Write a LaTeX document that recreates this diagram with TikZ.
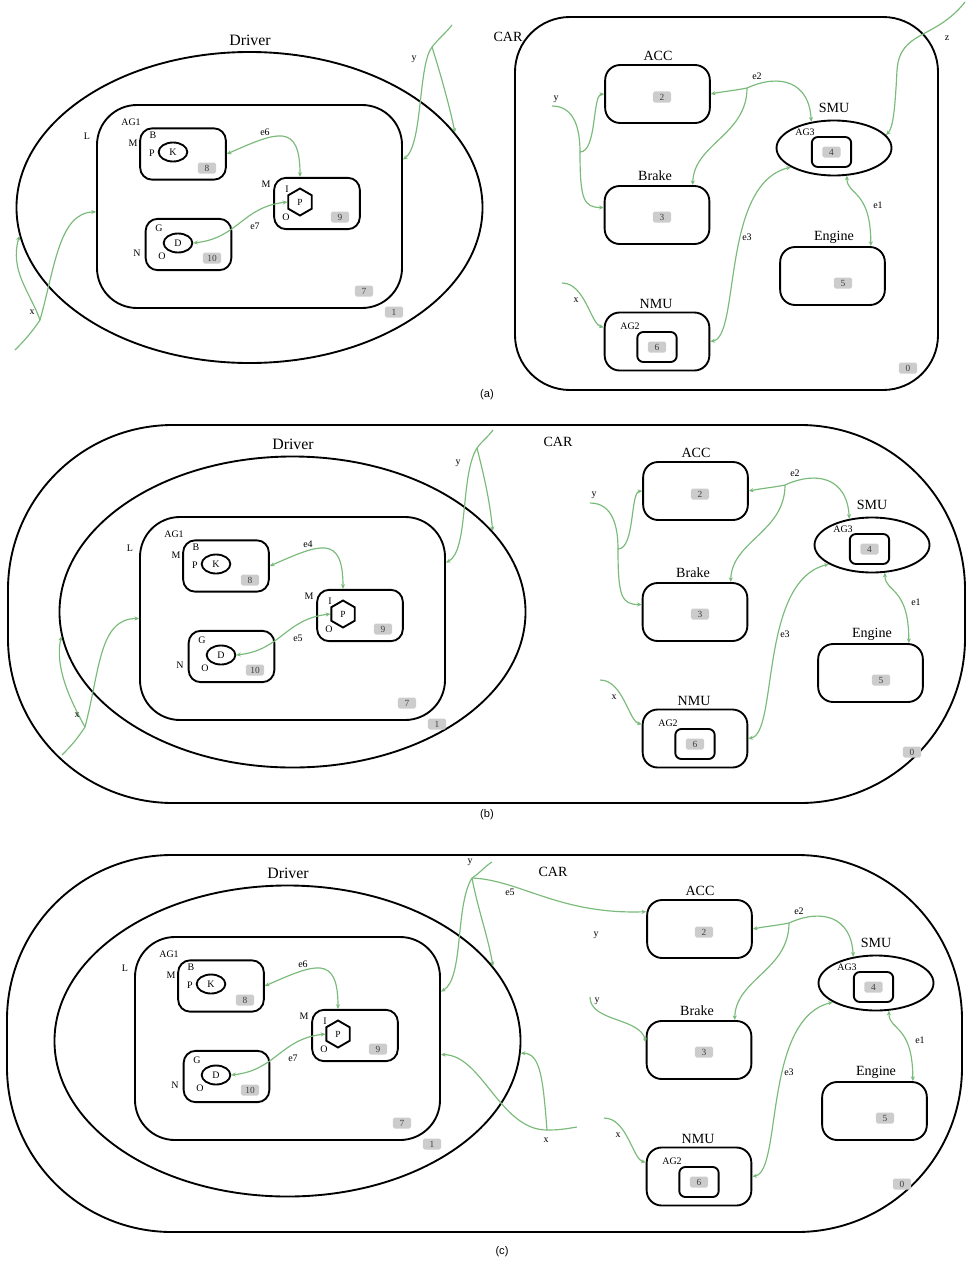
\documentclass[tikz,border=0pt]{standalone}
\usepackage{fontspec}
\setmainfont{Liberation Serif}
\newfontfamily\capfont{Liberation Sans}
\usetikzlibrary{shapes.geometric,arrows.meta}

\definecolor{wiregreen}{RGB}{122,186,122}
\definecolor{tagfill}{RGB}{204,204,204}

\tikzset{
  bound/.style={draw,line width=1.6pt,inner sep=0pt},
  agbox/.style={bound,rounded corners=1.2cm,minimum width=9.15cm,minimum height=6.09cm},
  drv/.style={bound,ellipse,minimum width=13.98cm,minimum height=9.33cm},
  ibox/.style={bound,rounded corners=0.36cm,minimum width=2.57cm,minimum height=1.54cm},
  cbox/.style={bound,rounded corners=0.45cm,minimum width=3.14cm,minimum height=1.74cm},
  gbox/.style={bound,rounded corners=0.18cm,minimum width=1.18cm,minimum height=0.9cm},
  smuoval/.style={bound,ellipse,minimum width=3.45cm,minimum height=1.65cm},
  oval/.style={bound,ellipse,minimum width=0.86cm,minimum height=0.57cm,font=\fontsize{8.5}{9}\selectfont},
  hexa/.style={bound,regular polygon,regular polygon sides=6,shape border rotate=30,minimum size=0.81cm,font=\fontsize{8}{9}\selectfont},
  outer/.style={bound,rounded corners=4.95cm,minimum width=28.71cm,minimum height=11.34cm},
  tag/.style={fill=tagfill,text=black!75,rounded corners=1.5pt,inner sep=1pt,minimum width=0.55cm,minimum height=0.33cm,font=\fontsize{8}{9}\selectfont},
  namelbl/.style={font=\fontsize{12}{14}\selectfont},
  lbl/.style={font=\fontsize{8.5}{10}\selectfont},
  caption/.style={font=\capfont\fontsize{9.5}{11}\selectfont},
  wire/.style={draw=wiregreen,line width=1pt},
  feed/.style={wire,-{Stealth[length=4pt,width=3.5pt]}},
  link/.style={wire,{Stealth[length=4pt,width=3.5pt]}-{Stealth[length=4pt,width=3.5pt]}}
}

% driver with its agent, origin at the top left corner of AG1
% #3 = height of the driver oval's centre
\newcommand{\drivergroup}[3]{%
  \node[drv] (dr) at (152.5,#3) {};
  \node[agbox] (ag1) at (152.5,101.5) {};
  \node[namelbl,font=\fontsize{13.5}{15}\selectfont] (drname) at (153,#3-167.5) {Driver};
  \node[lbl] (agname) at (34,17) {AG1};
  \node[lbl] (lname) at (-10,31) {L};
  \node[ibox] (b8) at (86,49) {};
  \node[lbl] (b8b) at (56,30) {B};
  \node[lbl] (b8m) at (36,38) {M};
  \node[lbl] (b8p) at (55,48) {P};
  \node[oval] (k) at (76,47) {K};
  \node[tag] (t8) at (110,63) {8};
  \node[ibox] (b9) at (220,98.5) {};
  \node[lbl] (b9m) at (169,79) {M};
  \node[lbl] (b9i) at (190,84) {I};
  \node[hexa] (hex) at (203,97) {P};
  \node[lbl] (b9o) at (189,112) {O};
  \node[tag] (t9) at (243,112) {9};
  \node[ibox] (b10) at (91.5,139.5) {};
  \node[lbl] (b10g) at (62,123) {G};
  \node[lbl] (b10n) at (40,148) {N};
  \node[oval] (d) at (81,138) {D};
  \node[lbl] (b10o) at (65,151) {O};
  \node[tag] (t10) at (115,153) {10};
  \node[tag] (t7) at (267,186) {7};
  \node[tag] (t1) at (297,207) {1};
  \draw[link] (b8.east) .. controls +(50,-22) and +(0,-55) .. (hex |- b9.north);
  \node[lbl] (eup) at (168,27) {#1};
  \draw[link] (d.east) .. controls +(45,-5) and +(-45,5) .. (hex.180);
  \node[lbl] (edown) at (158,121) {#2};
}

% car units, origin at the top left corner of ACC
\newcommand{\cargroup}{%
  \node[cbox] (acc) at (52.5,29) {};
  \node[namelbl] (accname) at (53,-9) {ACC};
  \node[tag] (t2) at (57,32) {2};
  \node[cbox] (brake) at (52,150) {};
  \node[namelbl] (brakename) at (50,111) {Brake};
  \node[tag] (t3) at (57,152) {3};
  \node[cbox] (nmu) at (52,276.5) {};
  \node[namelbl] (nmuname) at (51,239) {NMU};
  \node[lbl] (ag2name) at (25,261) {AG2};
  \node[gbox] (g2) at (52,282) {};
  \node[tag] (t6) at (52,282) {6};
  \node[smuoval] (smu) at (229,83) {};
  \node[namelbl] (smuname) at (229,43) {SMU};
  \node[lbl] (ag3name) at (200,67) {AG3};
  \node[gbox] (g3) at (226.5,87) {};
  \node[tag] (t4) at (226.5,87) {4};
  \node[cbox] (engine) at (227.5,211) {};
  \node[namelbl] (enginename) at (229,172) {Engine};
  \node[tag] (t5) at (238,218) {5};
  \coordinate (j2) at (142,23);
  \draw[link] (acc.east) .. controls +(15,-3) and +(-15,3) .. (j2) .. controls +(33,-15) and +(-2,-40) .. (smu.131);
  \draw[feed] (j2) .. controls +(0,47) and +(1,-41) .. (brake.40);
  \node[lbl] (e2name) at (152,11) {e2};
  \draw[link] (nmu.east) .. controls +(30,-5) and +(-70,17) .. (smu.204);
  \node[lbl] (e3name) at (142,172) {e3};
  \draw[link] (smu.295) .. controls +(0,20) and +(0,-57) .. (engine.38);
  \node[lbl] (e1name) at (273,140) {e1};
  \coordinate (x0) at (-43,218);
  \draw[feed] (x0) .. controls +(23,0) and +(-13,-3) .. (nmu.165);
  \node[lbl] (xname) at (-29,235) {x};
}

\begin{document}
\begin{tikzpicture}[x=0.03cm,y=-0.03cm]
  \useasboundingbox (0,0) rectangle (966,1263);

  % (a)
  \begin{scope}[shift={(97,105)},name prefix=a-]
    \drivergroup{e6}{e7}{102.5}
  \end{scope}
  \node[bound,rounded corners=1.65cm,minimum width=12.69cm,minimum height=11.19cm] (a-car) at (726.5,203.5) {};
  \node[namelbl] (a-carname) at (508,37) {CAR};
  \node[tag] (a-t0) at (908,368) {0};
  \begin{scope}[shift={(605,65)},name prefix=a-]
    \cargroup
  \end{scope}
  \coordinate (a-dy0) at (452,25);
  \coordinate (a-dyj) at (432,47);
  \draw[feed] (a-dy0) .. controls +(-8,10) and +(8,-10) .. (a-dyj) .. controls +(-14,18) and +(20,-15) .. (a-ag1.17);
  \draw[feed] (a-dyj) .. controls +(8,25) and +(-5,-25) .. (a-dr.20);
  \node[lbl] (a-dyname) at (414,59) {y};
  \coordinate (a-dx0) at (15,350);
  \coordinate (a-dxj) at (40,320);
  \draw[feed] (a-dx0) .. controls +(10,-10) and +(-8,12) .. (a-dxj) .. controls +(15,-53) and +(-37,1) .. (a-ag1.182);
  \draw[feed] (a-dxj) .. controls +(-10,-28) and +(-10,35) .. (a-dr.187);
  \node[lbl] (a-dxname) at (32,312) {x};
  \coordinate (a-cy0) at (552,106);
  \coordinate (a-cyj) at (580,152);
  \draw[feed] (a-cy0) .. controls +(23,0) and +(0,-22) .. (a-cyj) .. controls +(17,0) and +(-12,1) .. (a-acc.west);
  \draw[feed] (a-cyj) .. controls +(0,48) and +(-20,0) .. (a-brake.172);
  \node[lbl] (a-cyname) at (556,99) {y};
  \coordinate (a-z0) at (965,2);
  \draw[feed] (a-z0) .. controls (935,40) and (900,30) .. (897,70) .. controls (895,110) and (893,128) .. (a-smu.14);
  \node[lbl] (a-zname) at (947,38) {z};
  \node[caption] (capa) at (487,395) {(a)};

  % (b)
  \node[outer] (b-car) at (486.5,614) {};
  \node[namelbl] (b-carname) at (558,442) {CAR};
  \node[tag] (b-t0) at (912,752) {0};
  \begin{scope}[shift={(140,517)},name prefix=b-]
    \drivergroup{e4}{e5}{95}
  \end{scope}
  \begin{scope}[shift={(643,462)},name prefix=b-]
    \cargroup
  \end{scope}
  \coordinate (b-dy0) at (493,430);
  \coordinate (b-dyj) at (477,448);
  \draw[feed] (b-dy0) .. controls +(-6,8) and +(6,-8) .. (b-dyj) .. controls +(-17,27) and +(23,-12) .. (b-ag1.20);
  \draw[feed] (b-dyj) .. controls +(8,32) and +(-3,-30) .. (b-dr.22);
  \node[lbl] (b-dyname) at (458,463) {y};
  \coordinate (b-dx0) at (62,755);
  \coordinate (b-dxj) at (85,727);
  \draw[feed] (b-dx0) .. controls +(10,-10) and +(-8,12) .. (b-dxj) .. controls +(15,-57) and +(-40,0) .. (b-ag1.west);
  \draw[feed] (b-dxj) .. controls +(-15,-27) and +(-7,30) .. (b-dr.186);
  \node[lbl] (b-dxname) at (77,715) {x};
  \coordinate (b-cy0) at (590,503);
  \coordinate (b-cyj) at (618,549);
  \draw[feed] (b-cy0) .. controls +(23,0) and +(0,-22) .. (b-cyj) .. controls +(17,0) and +(-12,1) .. (b-acc.west);
  \draw[feed] (b-cyj) .. controls +(0,48) and +(-20,0) .. (b-brake.172);
  \node[lbl] (b-cyname) at (594,495) {y};
  \node[caption] (capb) at (487,815) {(b)};

  % (c)
  \node[outer,minimum width=28.65cm,minimum height=11.31cm] (c-car) at (484.5,1043.5) {};
  \node[namelbl] (c-carname) at (553,872) {CAR};
  \node[tag] (c-t0) at (902,1184) {0};
  \begin{scope}[shift={(135,937)},name prefix=c-]
    \drivergroup{e6}{e7}{104}
  \end{scope}
  \begin{scope}[shift={(647,900)},name prefix=c-]
    \cargroup
  \end{scope}
  \coordinate (c-dy0) at (492,862);
  \coordinate (c-dyj) at (472,878);
  \draw[feed] (c-dy0) .. controls +(-8,5) and +(8,-5) .. (c-dyj) .. controls +(-17,27) and +(23,-13) .. (c-ag1.17);
  \draw[feed] (c-dyj) .. controls +(6,32) and +(-5,-30) .. (c-dr.20);
  \draw[feed] (c-dyj) .. controls +(48,2) and +(-87,3) .. (c-acc.162);
  \node[lbl] (c-dyname) at (470,862) {y};
  \node[lbl] (c-e5name) at (510,892) {e5};
  \coordinate (c-dx0) at (577,1127);
  \coordinate (c-dxj) at (547,1130);
  \draw[feed] (c-dx0) .. controls +(-12,2) and +(12,0) .. (c-dxj) .. controls +(-47,0) and +(41,0) .. (c-ag1.354);
  \draw[feed] (c-dxj) .. controls +(-4,-50) and +(20,0) .. (c-dr.357);
  \node[lbl] (c-dxname) at (546,1140) {x};
  \node[lbl] (c-cyfree) at (596,935) {y};
  \coordinate (c-cy0) at (590,997);
  \draw[feed] (c-cy0) .. controls +(0,25) and +(-5,-25) .. (c-brake.172);
  \node[lbl] (c-cyname) at (597,1001) {y};
  \node[caption] (capc) at (502,1252) {(c)};
\end{tikzpicture}
\end{document}
